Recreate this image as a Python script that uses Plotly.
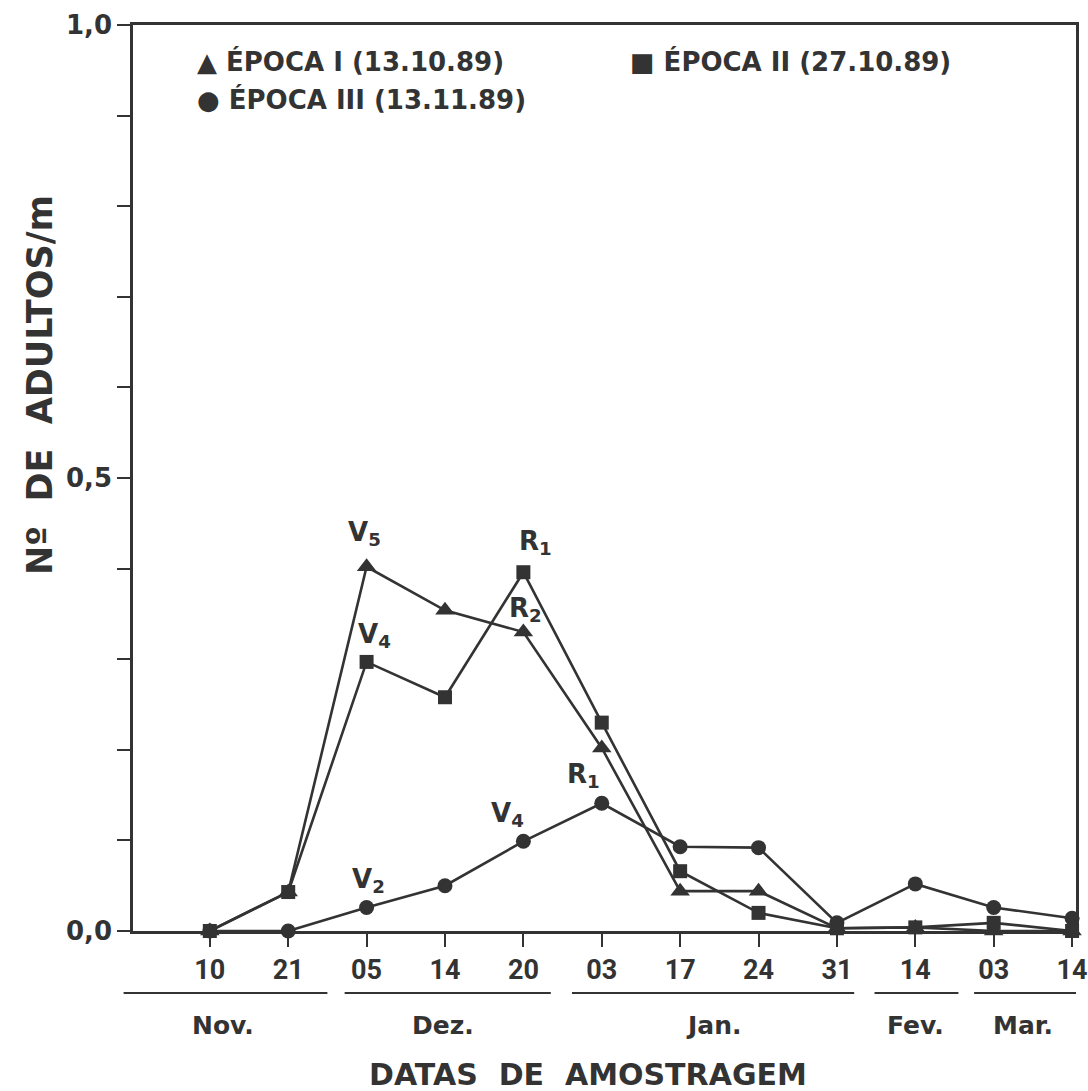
import plotly.graph_objects as go

# Sampling dates (day of month) and the month they belong to
dates = ["10", "21", "05", "14", "20", "03", "17", "24", "31", "14", "03", "14"]
months = ["Nov.", "Nov.", "Dez.", "Dez.", "Dez.", "Jan.", "Jan.", "Jan.", "Jan.", "Fev.", "Mar.", "Mar."]

# Adults per metre for each sowing date
epoca_1 = [0.0, 0.043, 0.402, 0.354, 0.330, 0.202, 0.044, 0.044, 0.003, 0.004, 0.0, 0.0]
epoca_2 = [0.0, 0.043, 0.297, 0.258, 0.396, 0.230, 0.066, 0.020, 0.003, 0.004, 0.009, 0.0]
epoca_3 = [0.0, 0.0, 0.026, 0.050, 0.099, 0.141, 0.093, 0.092, 0.009, 0.052, 0.026, 0.014]

legend_1 = "ÉPOCA I (13.10.89)"
legend_2 = "ÉPOCA II (27.10.89)"
legend_3 = "ÉPOCA III (13.11.89)"

# Phenological stage labels: (series, index, text, dx, dy)
stage_labels = [
    (epoca_1, 2, "V<sub>5</sub>", -2, 33),
    (epoca_2, 2, "V<sub>4</sub>", 8, 26),
    (epoca_2, 4, "R<sub>1</sub>", 12, 30),
    (epoca_1, 4, "R<sub>2</sub>", 2, 23),
    (epoca_3, 2, "V<sub>2</sub>", 2, 27),
    (epoca_3, 4, "V<sub>4</sub>", -16, 27),
    (epoca_3, 5, "R<sub>1</sub>", -18, 28),
]

INK = "#333333"
FONT = "DejaVu Sans"
TICK_FONT = "Roboto"
NB = "\u00a0"
x = list(range(len(dates)))
x_range = [-0.98, 11.05]

fig = go.Figure()
series = [
    (epoca_3, "circle", 15),
    (epoca_1, "triangle-up", 17),
    (epoca_2, "square", 14),
]
for values, symbol, size in series:
    fig.add_trace(go.Scatter(
        x=x, y=values, mode="lines+markers",
        line=dict(color=INK, width=2.6),
        marker=dict(symbol=symbol, size=size, color=INK),
        cliponaxis=False, showlegend=False,
    ))

annotations = []
for values, i, text, dx, dy in stage_labels:
    annotations.append(dict(
        x=i, y=values[i], xref="x", yref="y", text=text, showarrow=False,
        xshift=dx, yshift=dy, font=dict(family=FONT, size=26, color=INK, weight="bold"),
    ))

# Legend written as text lines inside the plot frame
plot_l, plot_r, plot_t, plot_b = 133, 1076, 25, 931
def px(xp):
    return (xp - plot_l) / (plot_r - plot_l)
def py(yp):
    return (plot_b - yp) / (plot_b - plot_t)
def xd(v):
    return (v - x_range[0]) / (x_range[1] - x_range[0])

legend_font = dict(family=FONT, size=26, color=INK, weight="bold")
for sym, label, xp, yp in [("▲", legend_1, 195, 62), ("■", legend_2, 628, 62), ("●", legend_3, 195, 100)]:
    annotations.append(dict(
        x=px(xp), y=py(yp), xref="paper", yref="paper", xanchor="left", yanchor="middle",
        text=sym + " " + label, showarrow=False, font=legend_font,
    ))

# Month groups under the date ticks
month_spans = {"Nov.": (-1.1, 1.5), "Dez.": (1.72, 4.35), "Jan.": (4.62, 8.22),
               "Fev.": (8.48, 9.55), "Mar.": (9.75, 11.05)}
month_centres = {"Nov.": 0.17, "Dez.": 2.97, "Jan.": 6.43, "Fev.": 9.0, "Mar.": 10.37}
shapes = []
for m, (a, b) in month_spans.items():
    shapes.append(dict(type="line", xref="paper", yref="paper", x0=xd(a), x1=xd(b),
                       y0=py(993), y1=py(993), line=dict(color=INK, width=2.2)))
    annotations.append(dict(x=xd(month_centres[m]), y=py(1025), xref="paper", yref="paper",
                            text=m, showarrow=False, xanchor="center", yanchor="middle",
                            font=dict(family=FONT, size=25, color=INK, weight="bold")))

annotations.append(dict(x=px(588), y=py(1074), xref="paper", yref="paper",
                        text=f"DATAS{NB}{NB}DE{NB}{NB}AMOSTRAGEM", showarrow=False,
                        xanchor="center", yanchor="middle",
                        font=dict(family=FONT, size=30, color=INK, weight="bold")))
annotations.append(dict(x=px(40), y=py(385), xref="paper", yref="paper", textangle=-90,
                        text=f"Nº{NB}{NB}DE{NB}{NB}ADULTOS/m", showarrow=False,
                        xanchor="center", yanchor="middle",
                        font=dict(family=FONT, size=35, color=INK, weight="bold")))

yvals = [round(v * 0.1, 1) for v in range(11)]
ytext = ["0,0" if v == 0 else "0,5" if v == 0.5 else "1,0" if v == 1.0 else "" for v in yvals]
xtext = [f"<b>{d}</b>" for d in dates]

fig.update_layout(
    width=1088, height=1091,
    margin=dict(l=plot_l, r=1088 - plot_r, t=plot_t, b=1091 - plot_b),
    paper_bgcolor="white", plot_bgcolor="white",
    xaxis=dict(
        range=x_range, tickmode="array", tickvals=x, ticktext=xtext, automargin=False,
        ticklabeloverflow="allow",
        showgrid=False, zeroline=False, showline=True, mirror=True,
        linecolor=INK, linewidth=2.6, ticks="outside", ticklen=13, tickwidth=2,
        tickcolor=INK, tickfont=dict(family=TICK_FONT, size=27, color=INK),
    ),
    yaxis=dict(
        range=[0, 1.0], tickmode="array", tickvals=yvals, ticktext=ytext, automargin=False,
        showgrid=False, zeroline=False, showline=True, mirror=True,
        linecolor=INK, linewidth=2.6, ticks="outside", ticklen=13, tickwidth=2,
        tickcolor=INK, tickfont=dict(family=FONT, size=26, color=INK, weight="bold"),
    ),
    annotations=annotations, shapes=shapes,
)

fig.write_html("out.html")
